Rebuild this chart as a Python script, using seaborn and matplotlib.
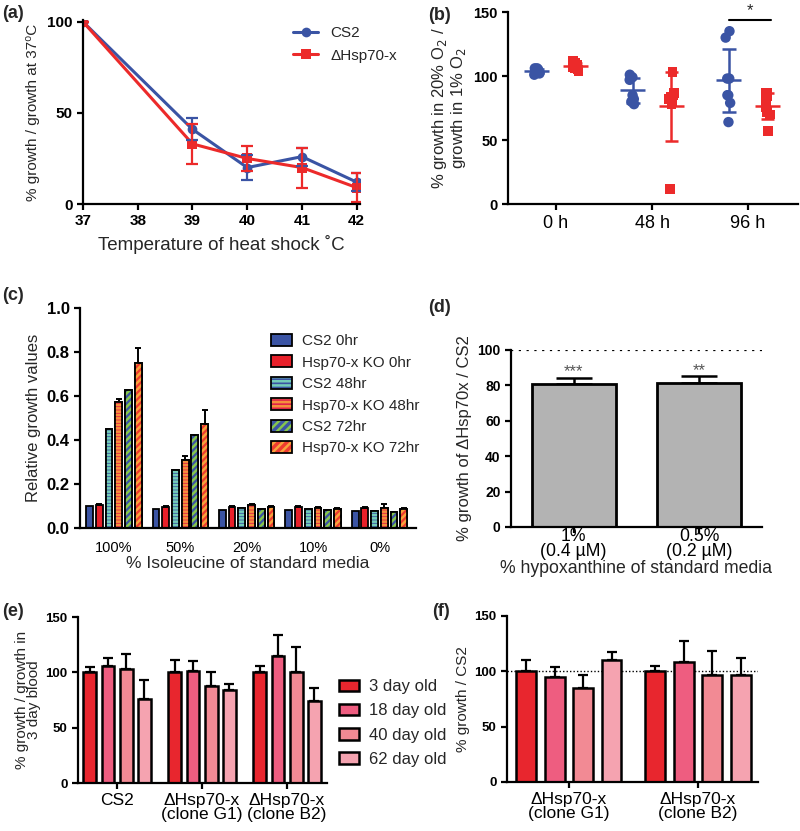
import numpy as np
import pandas as pd
import seaborn as sns
import matplotlib.pyplot as plt
from matplotlib.patches import Rectangle, Patch
from matplotlib.lines import Line2D

# ---- (a) heat shock ----
temps = [37, 39, 40, 41, 42]
a_cs2 = [100, 41, 20, 26, 12]
a_cs2_sd = [0, 6, 7, 5, 5]
a_ko = [100, 33, 25, 20, 9]
a_ko_sd = [0, 11, 7, 11, 8]

# ---- (b) oxygen ----
b_times = ['0 h', '48 h', '96 h']
b_cs2 = {
    '0 h': [106, 105, 104, 104, 103, 102, 101, 106],
    '48 h': [101, 99, 97, 85, 82, 80, 78],
    '96 h': [135, 130, 98, 98, 85, 85, 79, 64],
}
b_ko = {
    '0 h': [112, 110, 109, 108, 107, 106, 105, 104],
    '48 h': [103, 87, 85, 84, 82, 80, 78, 12],
    '96 h': [87, 87, 84, 80, 76, 72, 70, 57],
}

# ---- (c) isoleucine ----
c_conc = ['100%', '50%', '20%', '10%', '0%']
c_series = ['CS2 0hr', 'Hsp70-x KO 0hr', 'CS2 48hr', 'Hsp70-x KO 48hr', 'CS2 72hr', 'Hsp70-x KO 72hr']
c_vals = [
    [0.100, 0.088, 0.083, 0.083, 0.076],
    [0.105, 0.094, 0.094, 0.095, 0.091],
    [0.450, 0.262, 0.091, 0.086, 0.079],
    [0.573, 0.308, 0.105, 0.091, 0.091],
    [0.629, 0.424, 0.086, 0.080, 0.073],
    [0.750, 0.474, 0.094, 0.088, 0.086],
]
c_err = [
    [0, 0, 0, 0, 0],
    [0.004, 0.004, 0.004, 0.004, 0.004],
    [0, 0, 0, 0, 0],
    [0.012, 0.020, 0.005, 0.004, 0.020],
    [0, 0, 0, 0, 0],
    [0.068, 0.064, 0.004, 0.004, 0.004],
]

# ---- (d) hypoxanthine ----
d_labels = ['1%\n(0.4 µM)', '0.5%\n(0.2 µM)']
d_vals = [81, 81.5]
d_err = [3.4, 3.6]
d_stars = ['***', '**']

# ---- (e) / (f) blood age ----
ages = ['3 day old', '18 day old', '40 day old', '62 day old']
e_groups = ['CS2', 'ΔHsp70-x\n(clone G1)', 'ΔHsp70-x\n(clone B2)']
e_vals = [[100, 106, 103, 76], [100, 101, 88, 84], [100, 114.5, 100, 74]]
e_err = [[4.5, 7, 14, 17], [11.5, 9, 12, 5.5], [5.4, 19.5, 22.6, 11.5]]
f_groups = ['ΔHsp70-x\n(clone G1)', 'ΔHsp70-x\n(clone B2)']
f_vals = [[100, 95.3, 84.8, 110.3], [100, 108.8, 96.8, 96.8]]
f_err = [[10.5, 8.4, 12, 7.5], [5.1, 18.7, 21.9, 15]]

BLUE = '#3A54A4'
RED = '#EC2A2A'
age_cols = ['#E8262E', '#EE5D80', '#F28A94', '#F5A3B0']

sns.set_style('ticks')
plt.rcParams['font.family'] = ['Liberation Sans', 'DejaVu Sans']
plt.rcParams['hatch.linewidth'] = 1.8
plt.rcParams['axes.linewidth'] = 1.6
plt.rcParams['xtick.major.width'] = 1.6
plt.rcParams['ytick.major.width'] = 1.6
plt.rcParams['xtick.major.size'] = 4
plt.rcParams['ytick.major.size'] = 4
plt.rcParams['axes.edgecolor'] = 'black'
plt.rcParams['xtick.color'] = 'black'
plt.rcParams['ytick.color'] = 'black'

fig = plt.figure(figsize=(8, 8.31), dpi=100)
H = 831.0


def add_ax(x0, x1, ytop, ybot):
    return fig.add_axes([x0 / 800, 1 - ybot / H, (x1 - x0) / 800, (ybot - ytop) / H])


def style(ax, yfs, xfs, xbold=False):
    sns.despine(ax=ax)
    for t in ax.get_yticklabels():
        t.set_fontweight('bold')
        t.set_fontsize(yfs)
    for t in ax.get_xticklabels():
        t.set_fontsize(xfs)
        if xbold:
            t.set_fontweight('bold')


def panel_a():
    ax = add_ax(83, 360, 20, 204)
    df = pd.DataFrame({'temp': temps * 2, 'val': a_cs2 + a_ko,
                       'strain': ['CS2'] * 5 + ['ΔHsp70-x'] * 5})
    sns.lineplot(data=df, x='temp', y='val', hue='strain', style='strain',
                 palette=[BLUE, RED], markers=['o', 's'], dashes=False,
                 lw=2.2, markersize=7, markeredgewidth=0, ax=ax, legend=False)
    ax.errorbar(temps, a_cs2, yerr=a_cs2_sd, fmt='none', ecolor=BLUE, elinewidth=1.6, capsize=4.5, capthick=1.6)
    ax.errorbar(temps, a_ko, yerr=a_ko_sd, fmt='none', ecolor=RED, elinewidth=1.6, capsize=4.5, capthick=1.6)
    ax.set_xlim(37, 42.06)
    ax.set_ylim(0, 101)
    ax.set_xticks([37, 38, 39, 40, 41, 42])
    ax.set_yticks([0, 50, 100])
    ax.set_xlabel('Temperature of heat shock ˚C', fontsize=13.5, labelpad=5)
    ax.set_ylabel('% growth / growth at 37⁰C', fontsize=11, labelpad=5)
    style(ax, 11, 11, xbold=True)
    handles = [Line2D([], [], color=BLUE, marker='o', lw=2.2, ms=7, mew=0),
               Line2D([], [], color=RED, marker='s', lw=2.2, ms=7, mew=0)]
    ax.legend(handles, ['CS2', 'ΔHsp70-x'], frameon=False, fontsize=11,
              handlelength=1.6, loc='upper left', bbox_to_anchor=(0.71, 1.04),
              labelspacing=0.55)
    fig.text(2 / 800, 1 - 14 / H, '(a)', fontsize=13, fontweight='bold', va='center')


def panel_b():
    ax = add_ax(508, 798, 12, 204)
    rows = []
    for t in b_times:
        rows += [(t, 'CS2', v) for v in b_cs2[t]]
        rows += [(t, 'KO', v) for v in b_ko[t]]
    df = pd.DataFrame(rows, columns=['time', 'strain', 'val'])
    np.random.seed(3)
    sns.stripplot(data=df[df.strain == 'CS2'], x='time', y='val', hue='strain',
                  hue_order=['CS2', 'KO'], palette=[BLUE, RED], dodge=True,
                  jitter=0.07, size=7.5, marker='o', linewidth=0, ax=ax, legend=False)
    sns.stripplot(data=df[df.strain == 'KO'], x='time', y='val', hue='strain',
                  hue_order=['CS2', 'KO'], palette=[BLUE, RED], dodge=True,
                  jitter=0.07, size=7, marker='s', linewidth=0, ax=ax, legend=False)
    for i, t in enumerate(b_times):
        for off, src, col in [(-0.2, b_cs2, BLUE), (0.2, b_ko, RED)]:
            m = np.mean(src[t])
            sd = np.std(src[t], ddof=1)
            x = i + off
            ax.hlines(m, x - 0.13, x + 0.13, color=col, lw=1.8, zorder=5)
            ax.vlines(x, m - sd, m + sd, color=col, lw=1.8, zorder=5)
            ax.hlines([m - sd, m + sd], x - 0.07, x + 0.07, color=col, lw=1.8, zorder=5)
    ax.plot([1.8, 2.24], [144, 144], color='black', lw=1.5)
    ax.text(2.02, 145, '*', ha='center', va='bottom', fontsize=12)
    ax.set_xlim(-0.5, 2.52)
    ax.set_ylim(0, 150)
    ax.set_yticks([0, 50, 100, 150])
    ax.set_xlabel('')
    ax.set_ylabel('% growth in 20% O$_2$ /\ngrowth in 1% O$_2$', fontsize=12, labelpad=4,
                  linespacing=1.0)
    style(ax, 10.5, 13)
    ax.tick_params(axis='x', pad=4)
    fig.text(428 / 800, 1 - 15 / H, '(b)', fontsize=13, fontweight='bold', va='center')


def panel_c():
    ax = add_ax(80, 416, 308, 528)
    rows = []
    for s, vals in zip(c_series, c_vals):
        rows += [(c, s, v) for c, v in zip(c_conc, vals)]
    df = pd.DataFrame(rows, columns=['conc', 'series', 'val'])
    faces = ['#3B54A4', '#E8202A', '#3B54A4', '#E2234A', '#3B54A4', '#EE3B30']
    hatches = [None, None, '-----', '-----', '/////', '/////']
    hcols = [None, None, '#74CDB8', '#F5913C', '#86C64C', '#F8A23C']
    sns.barplot(data=df, x='conc', y='val', hue='series', hue_order=c_series,
                palette=faces, saturation=1, width=0.88, gap=0.3, edgecolor='black',
                linewidth=1.3, ax=ax, legend=False)
    bars = ax.patches[:]
    n = len(c_conc)
    for h in range(len(c_series)):
        lvl = bars[h * n:(h + 1) * n]
        xs = [b.get_x() + b.get_width() / 2 for b in lvl]
        if hatches[h]:
            for b in lvl:
                z = b.get_zorder()
                ax.add_patch(Rectangle(b.get_xy(), b.get_width(), b.get_height(), facecolor='none',
                                       edgecolor=hcols[h], hatch=hatches[h], lw=0, zorder=z + 0.1))
                ax.add_patch(Rectangle(b.get_xy(), b.get_width(), b.get_height(), fill=False,
                                       edgecolor='black', lw=1.3, zorder=z + 0.2))
        if any(c_err[h]):
            ax.errorbar(xs, c_vals[h], yerr=[np.zeros(n), c_err[h]], fmt='none', ecolor='black',
                        elinewidth=1.4, capsize=2.5, capthick=1.4, zorder=1)
    ax.set_xlim(-0.51, 4.55)
    ax.set_ylim(0, 1.0)
    ax.set_yticks([0, 0.2, 0.4, 0.6, 0.8, 1.0])
    ax.set_yticklabels(['0.0', '0.2', '0.4', '0.6', '0.8', '1.0'])
    ax.set_xlabel('% Isoleucine of standard media', fontsize=12.5, labelpad=1)
    ax.set_ylabel('Relative growth values', fontsize=12, labelpad=4)
    style(ax, 12, 10.5)
    ax.tick_params(axis='x', length=0, pad=9)
    handles = []
    for h in range(len(c_series)):
        base = Patch(facecolor=faces[h], edgecolor='none')
        if hatches[h]:
            hp = Patch(facecolor='none', edgecolor=hcols[h], hatch=hatches[h][:4], lw=0)
            handles.append((base, hp, Patch(fill=False, edgecolor='black', lw=1.3)))
        else:
            handles.append((base, Patch(fill=False, edgecolor='black', lw=1.3)))
    ax.legend(handles, c_series, frameon=False, fontsize=11, loc='upper left',
              bbox_to_anchor=(0.55, 0.91), handlelength=1.4, handleheight=0.8,
              labelspacing=0.48, handletextpad=0.65, borderaxespad=0)
    fig.text(2 / 800, 1 - 295 / H, '(c)', fontsize=13, fontweight='bold', va='center')


def panel_d():
    ax = add_ax(511, 762, 350, 527)
    df = pd.DataFrame({'conc': d_labels, 'val': d_vals})
    sns.barplot(data=df, x='conc', y='val', color='#B3B3B3', saturation=1, width=0.67,
                edgecolor='black', linewidth=2, ax=ax)
    ax.errorbar([0, 1], d_vals, yerr=[[0, 0], d_err], fmt='none', ecolor='black',
                elinewidth=1.8, capsize=13, capthick=1.8, zorder=0)
    for i, s in enumerate(d_stars):
        ax.text(i, d_vals[i] + d_err[i] - 1, s, ha='center', va='bottom', fontsize=12, color='#555555')
    ax.axhline(100, ls=(0, (1, 2.5)), color='black', lw=1.6)
    ax.set_xlim(-0.5, 1.5)
    ax.set_ylim(0, 100)
    ax.set_yticks([0, 20, 40, 60, 80, 100])
    ax.set_xlabel('% hypoxanthine of standard media', fontsize=12.7, labelpad=0)
    ax.set_ylabel('% growth of ΔHsp70x / CS2', fontsize=12, labelpad=4)
    style(ax, 10, 12.7)
    ax.tick_params(axis='x', pad=-3)
    for t in ax.get_xticklabels():
        t.set_linespacing(0.8)
    fig.text(428 / 800, 1 - 307 / H, '(d)', fontsize=13, fontweight='bold', va='center')


def age_bars(ax, groups, vals, errs, width):
    rows = []
    for g, vs in zip(groups, vals):
        rows += [(g, a, v) for a, v in zip(ages, vs)]
    df = pd.DataFrame(rows, columns=['group', 'age', 'val'])
    sns.barplot(data=df, x='group', y='val', hue='age', hue_order=ages, palette=age_cols,
                saturation=1, width=width, gap=0.3, edgecolor='black', linewidth=1.8,
                ax=ax, legend=False)
    n = len(groups)
    bars = ax.patches[:]
    for h in range(len(ages)):
        lvl = bars[h * n:(h + 1) * n]
        xs = [b.get_x() + b.get_width() / 2 for b in lvl]
        ys = [vals[g][h] for g in range(n)]
        es = [errs[g][h] for g in range(n)]
        ax.errorbar(xs, ys, yerr=[np.zeros(n), es], fmt='none', ecolor='black',
                    elinewidth=1.6, capsize=3.5, capthick=1.6, zorder=0)
    ax.set_ylim(0, 150)
    ax.set_yticks([0, 50, 100, 150])
    ax.set_xlabel('')


def panel_e():
    ax = add_ax(78, 327, 617, 783)
    age_bars(ax, e_groups, e_vals, e_err, 0.86)
    ax.set_xlim(-0.46, 2.47)
    ax.set_ylabel('% growth / growth in\n3 day blood', fontsize=11, labelpad=3, linespacing=0.85)
    style(ax, 9.5, 12.5)
    for t in ax.get_xticklabels():
        t.set_linespacing(0.9)
    handles = [Patch(facecolor=c, edgecolor='black', lw=1.8) for c in age_cols]
    ax.legend(handles, ages, frameon=False, fontsize=12, loc='upper left',
              bbox_to_anchor=(1.02, 0.665), handlelength=1.2, handleheight=0.7,
              labelspacing=0.55, handletextpad=0.6, borderaxespad=0)
    fig.text(2 / 800, 1 - 612 / H, '(e)', fontsize=13, fontweight='bold', va='center')


def panel_f():
    ax = add_ax(507, 758, 616, 782)
    age_bars(ax, f_groups, f_vals, f_err, 0.88)
    ax.axhline(100, ls=(0, (1, 1.5)), color='black', lw=1.0, zorder=0.5)
    ax.set_xlim(-0.48, 1.465)
    ax.set_ylabel('% growth / CS2', fontsize=11, labelpad=3)
    style(ax, 9.5, 12.5)
    for t in ax.get_xticklabels():
        t.set_linespacing(0.9)
    fig.text(432 / 800, 1 - 612 / H, '(f)', fontsize=13, fontweight='bold', va='center')


panel_a()
panel_b()
panel_c()
panel_d()
panel_e()
panel_f()

fig.savefig('out.png', dpi=100)
